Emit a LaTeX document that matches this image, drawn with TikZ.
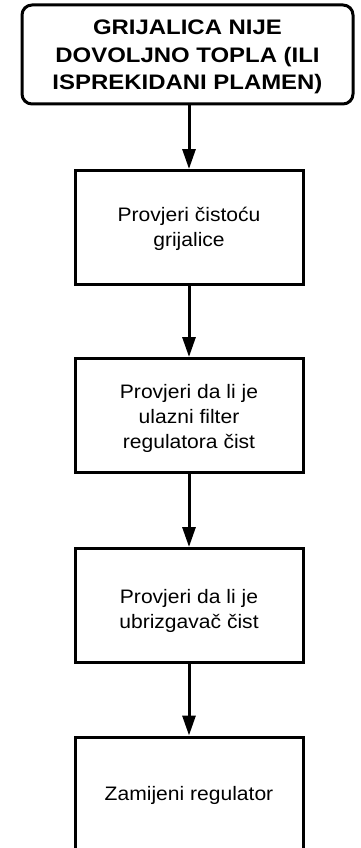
\documentclass[tikz,border=0pt]{standalone}
\usepackage{fontspec}
\setmainfont{Liberation Sans}
\newfontfamily\bodyfont[FakeStretch=1.08]{Liberation Sans}
\newfontfamily\titlefont[FakeStretch=1.14]{Liberation Sans}
\usetikzlibrary{arrows.meta}
\newcommand\flines[1]{\begin{tabular}[t]{@{}c@{}}#1\end{tabular}}
\tikzset{
  stepbox/.style={draw=black, line width=3pt, fill=white, inner sep=0pt,
    minimum width=228pt, minimum height=114pt},
  steptext/.style={inner sep=0pt, anchor=base,
    font=\bodyfont\fontsize{19.5}{25}\selectfont},
  titlebox/.style={draw=black, line width=3pt, rounded corners=10pt, fill=white, inner sep=0pt,
    minimum width=331pt, minimum height=99pt},
  titletext/.style={inner sep=0pt, anchor=base,
    font=\titlefont\bfseries\fontsize{21}{27.5}\selectfont},
  flow/.style={line width=3pt, -{Triangle[width=13pt,length=20pt]}}
}
\begin{document}
\begin{tikzpicture}[x=1pt,y=-1pt]
\clip (0,0) rectangle (360,848);
\fill[white] (0,0) rectangle (360,848);
\node[titlebox] (t) at (187.5,54.5) {};
\node[titletext] (tt) at (187.5,35) {\flines{GRIJALICA NIJE\\DOVOLJNO TOPLA (ILI\\ISPREKIDANI PLAMEN)}};
\node[stepbox] (a) at (189,227.5) {};
\node[steptext] (at) at (189,221) {\flines{Provjeri čistoću\\grijalice}};
\node[stepbox] (b) at (189,415.5) {};
\node[steptext] (bt) at (189,398.5) {\flines{Provjeri da li je\\ulazni filter\\regulatora čist}};
\node[stepbox] (c) at (189,605.5) {};
\node[steptext] (ct) at (189,603) {\flines{Provjeri da li je\\ubrizgavač čist}};
\node[stepbox] (d) at (189,794) {};
\node[steptext] (dt) at (189,800.5) {\flines{Zamijeni regulator}};
\draw[flow] (t.south -| a.north) -- (a.north);
\draw[flow] (a.south) -- (b.north);
\draw[flow] (b.south) -- (c.north);
\draw[flow] (c.south) -- (d.north);
\end{tikzpicture}
\end{document}
